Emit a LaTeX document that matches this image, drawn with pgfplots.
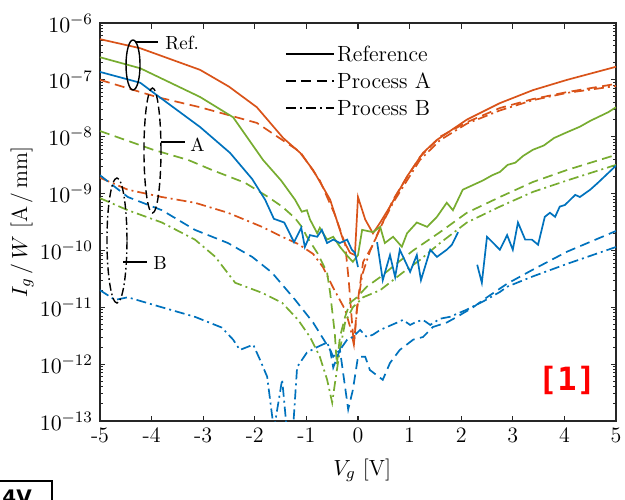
\documentclass[border=0pt]{standalone}
\usepackage{fontspec}
\usepackage{pgfplots}
\pgfplotsset{compat=1.18}
\newfontfamily\refmono{DejaVu Sans Mono}
\newfontfamily\boxsans{DejaVu Sans}
\definecolor{morange}{HTML}{D95319}
\definecolor{mgreen}{HTML}{77AC30}
\definecolor{mblue}{HTML}{0072BD}
\tikzset{
  ref/.style={line width=0.85pt, solid},
  procA/.style={line width=0.85pt, dash pattern=on 5pt off 2.75pt},
  procB/.style={line width=0.85pt, dash pattern=on 5pt off 2pt on 1pt off 2pt},
}
\begin{document}
\begin{tikzpicture}
\useasboundingbox (-50pt,-39pt) rectangle (262.5pt,210.5pt);
\begin{axis}[
  scale only axis, width=258pt, height=199pt,
  ymode=log, xmin=-5, xmax=5, ymin=1e-13, ymax=1e-6,
  xtick={-5,-4,-3,-2,-1,0,1,2,3,4,5},
  xticklabels={-5,-4,-3,-2,-1,0,1,2,3,4,5},
  ytick={1e-13,1e-12,1e-11,1e-10,1e-9,1e-8,1e-7,1e-6},
  minor ytick={2e-13,3e-13,4e-13,5e-13,6e-13,7e-13,8e-13,9e-13,
               2e-12,3e-12,4e-12,5e-12,6e-12,7e-12,8e-12,9e-12,
               2e-11,3e-11,4e-11,5e-11,6e-11,7e-11,8e-11,9e-11,
               2e-10,3e-10,4e-10,5e-10,6e-10,7e-10,8e-10,9e-10,
               2e-9,3e-9,4e-9,5e-9,6e-9,7e-9,8e-9,9e-9,
               2e-8,3e-8,4e-8,5e-8,6e-8,7e-8,8e-8,9e-8,
               2e-7,3e-7,4e-7,5e-7,6e-7,7e-7,8e-7,9e-7},
  tick align=inside, xtick pos=both, ytick pos=both,
  xticklabel pos=lower, yticklabel pos=left,
  major tick length=2.75pt, minor tick length=1.6pt,
  axis line style={line width=0.8pt, black!85},
  every tick/.style={black!85, line width=0.6pt},
  minor tick style={black!85, line width=0.5pt},
  tick label style={font=\fontsize{11}{13}\selectfont},
  label style={font=\fontsize{11}{13}\selectfont},
  xlabel={$V_g$ [V]},
  ylabel={$I_g\,/\,W$ [A\,/\,mm]},
  xlabel style={at={(axis description cs:0.508,-0.123)}, anchor=center},
  ylabel style={at={(axis description cs:-0.151,0.5)}, anchor=center, rotate=0},
  legend cell align=left,
  legend image code/.code={\draw[#1] (0pt,0pt) -- (24pt,0pt);},
  legend style={draw=none, fill=none, inner sep=0pt, row sep=2pt,
    at={(0.3576,0.952)}, anchor=north west,
    font=\fontsize{11}{13}\selectfont,
    nodes={inner sep=1.25pt, text height=8pt, text depth=1pt}},
]
\addlegendimage{black, ref}
\addlegendentry{Reference}
\addlegendimage{black, procA}
\addlegendentry{Process A}
\addlegendimage{black, procB}
\addlegendentry{Process B}

% orange device
\addplot[morange, ref, forget plot] coordinates {
(-5,5.2e-7) (-4.22,3.6e-7) (-3.06,1.5e-7) (-2.5,7.6e-8) (-1.96,3.3e-8) (-1.45,9.5e-9)
(-1.12,5.2e-9) (-0.87,2.6e-9) (-0.54,7.8e-10) (-0.29,1.55e-10) (-0.155,9.1e-11)
(-0.06,8.3e-11) (0,8.7e-10) (0.14,3.5e-10) (0.29,2.0e-10) (0.43,3.1e-10)
(0.62,5.9e-10) (0.95,2.0e-9) (1.26,5.2e-9) (1.53,8.8e-9) (2.11,2.0e-8)
(2.75,3.9e-8) (3.39,6.6e-8) (4.05,1.0e-7) (5,1.7e-7)};
\addplot[morange, procA, forget plot] coordinates {
(-5,1.0e-7) (-3.9,5.0e-8) (-3.06,3.3e-8) (-1.96,1.75e-8) (-1.41,8.1e-9)
(-1.12,5.4e-9) (-0.74,1.7e-9) (-0.45,4.3e-10) (-0.25,1.3e-10) (-0.18,3.0e-11)
(-0.12,6.0e-12) (-0.08,2.2e-12) (-0.02,1.0e-11) (0.10,6.3e-11) (0.29,1.26e-10)
(0.48,3.1e-10) (0.68,7.8e-10) (0.95,1.95e-9) (1.2,4.4e-9) (1.59,1.0e-8)
(2.11,1.8e-8) (2.75,3.2e-8) (3.39,4.6e-8) (4.05,6.1e-8) (5,8.5e-8)};
\addplot[morange, procB, forget plot] coordinates {
(-5,1.9e-9) (-4.46,1.17e-9) (-3.80,8.7e-10) (-3.16,6.9e-10) (-2.52,4.6e-10)
(-1.86,2.6e-10) (-1.47,1.74e-10) (-1.16,1.3e-10) (-0.87,8.7e-11) (-0.68,5.1e-11)
(-0.48,2.2e-11) (-0.25,9.1e-12) (-0.155,4.6e-12) (-0.08,2.2e-12) (-0.02,9e-12)
(0.08,3.7e-11) (0.23,9.6e-11) (0.43,2.5e-10) (0.68,6.9e-10) (0.95,1.7e-9)
(1.2,3.9e-9) (1.59,8.7e-9) (2.11,1.7e-8) (2.75,2.9e-8) (3.39,4.4e-8)
(4.05,5.9e-8) (5,7.8e-8)};

% green device
\addplot[mgreen, ref, forget plot] coordinates {
(-5,2.5e-7) (-4.22,1.6e-7) (-3.06,5.0e-8) (-2.42,2.2e-8) (-1.84,3.9e-9)
(-1.49,1.7e-9) (-1.22,7.8e-10) (-1.09,4.8e-10) (-0.99,5.1e-10) (-0.93,3.5e-10)
(-0.79,2.0e-10) (-0.74,2.5e-10) (-0.60,1.55e-10) (-0.48,1.74e-10) (-0.35,1.16e-10)
(-0.21,8.1e-11) (-0.10,6.3e-11) (0,8.3e-11) (0.08,2.3e-10) (0.29,2.1e-10)
(0.43,2.6e-10) (0.52,1.35e-10) (0.68,1.74e-10) (0.85,1.16e-10) (0.95,2.0e-10)
(1.14,3.1e-10) (1.34,2.6e-10) (1.53,3.9e-10) (1.72,6.9e-10) (1.84,5.1e-10)
(2.03,1.17e-9) (2.42,1.7e-9) (2.6,2.1e-9) (2.75,2.4e-9) (2.9,3.2e-9)
(3.05,3.5e-9) (3.2,4.6e-9) (3.39,5.9e-9) (3.6,7.0e-9) (3.8,9.5e-9)
(4.05,1.2e-8) (4.3,1.5e-8) (4.5,1.9e-8) (4.69,2.3e-8) (4.85,2.7e-8) (5,3.3e-8)};
\addplot[mgreen, procA, forget plot] coordinates {
(-5,1.26e-8) (-3.97,5.9e-9) (-3.29,3.9e-9) (-2.83,2.6e-9) (-2.19,1.55e-9)
(-1.74,8.7e-10) (-1.47,5.9e-10) (-1.22,3.7e-10) (-1.09,2.6e-10) (-0.99,1.74e-10)
(-0.79,9.1e-11) (-0.60,4.1e-11) (-0.54,1.8e-11) (-0.45,3.5e-12) (-0.41,9.8e-13)
(-0.35,3.0e-12) (-0.25,6.8e-12) (-0.155,1.2e-11) (-0.02,1.5e-11) (0.17,2.3e-11)
(0.43,3.4e-11) (0.76,6.0e-11) (1.07,1.0e-10) (1.59,2.1e-10) (2.11,4.6e-10)
(2.75,8.7e-10) (3.39,1.6e-9) (4.05,2.6e-9) (5,4.8e-9)};
\addplot[mgreen, procB, forget plot] coordinates {
(-5,8.3e-10) (-4.46,5.1e-10) (-3.80,3.1e-10) (-3.16,1.55e-10) (-2.77,7.8e-11)
(-2.38,2.7e-11) (-1.86,1.8e-11) (-1.47,1.2e-11) (-1.16,6.0e-12) (-0.93,3.0e-12)
(-0.74,1.35e-12) (-0.60,5.4e-13) (-0.50,2.1e-13) (-0.45,4.4e-13) (-0.35,1.8e-12)
(-0.25,5.4e-12) (-0.10,1.0e-11) (0.10,1.5e-11) (0.43,2.0e-11) (0.87,4.1e-11)
(1.20,6.8e-11) (1.59,1.35e-10) (2.11,3.1e-10) (2.75,5.9e-10) (3.39,1.07e-9)
(4.05,1.7e-9) (5,3.2e-9)};

% blue device (reference curve is interrupted where no current was read)
\addplot[mblue, ref, forget plot] coordinates {
(-5,1.38e-7) (-4.22,8.9e-8) (-3.90,5.4e-8) (-3.06,1.48e-8) (-2.48,5.2e-9)
(-2.05,1.8e-9) (-1.80,7.8e-10) (-1.63,3.6e-10) (-1.43,3.1e-10) (-1.24,1.4e-10)
(-1.10,2.5e-10) (-1.03,1.15e-10) (-0.93,1.86e-10) (-0.79,1.74e-10) (-0.70,2.3e-10)
(-0.60,1.35e-10) (-0.48,1.55e-10) (-0.35,1.35e-10) (-0.21,1.55e-10) (-0.12,1.03e-10)
(-0.06,9.1e-11) (0,5.1e-11)};
\addplot[mblue, ref, forget plot] coordinates {
(0.37,1.4e-10) (0.48,3.0e-11) (0.62,8.3e-11) (0.72,3.4e-11) (0.81,1.03e-10)
(1.01,4.2e-11) (1.14,8.3e-11) (1.22,3.0e-11) (1.40,1.03e-10) (1.53,7.7e-11)
(1.72,1.03e-10) (1.82,1.26e-10) (1.94,2.1e-10)};
\addplot[mblue, ref, forget plot] coordinates {
(2.31,5.6e-11) (2.40,2.7e-11) (2.50,1.74e-10) (2.75,1.03e-10) (2.89,1.86e-10)
(3.00,1.03e-10) (3.10,3.1e-10) (3.24,1.55e-10) (3.37,1.55e-10) (3.49,1.26e-10)
(3.62,3.9e-10) (3.72,4.6e-10) (3.82,3.9e-10) (3.91,5.9e-10) (4.01,6.3e-10)
(4.21,9.5e-10) (4.30,8.7e-10) (4.50,1.17e-9) (4.65,1.55e-9) (5,3.1e-9)};
\addplot[mblue, procA, forget plot] coordinates {
(-5,2.1e-9) (-4.46,8.7e-10) (-3.80,5.1e-10) (-3.16,2.3e-10) (-2.52,1.35e-10)
(-2.05,7.7e-11) (-1.67,4.1e-11) (-1.22,1.36e-11) (-0.87,5.4e-12) (-0.54,1.78e-12)
(-0.48,8.7e-13) (-0.35,1.78e-12) (-0.19,1.6e-13) (-0.10,3.5e-13) (0,1.35e-12)
(0.14,1.35e-12) (0.23,7.9e-13) (0.48,5.3e-13) (0.62,1.05e-12) (0.81,1.78e-12)
(1.07,2.7e-12) (1.26,3.0e-12) (1.45,4.5e-12) (1.72,5.4e-12) (1.92,6.8e-12)
(2.23,1.0e-11) (2.50,1.5e-11) (2.89,2.6e-11) (3.39,4.6e-11) (4.05,9.5e-11)
(5,2.2e-10)};
\addplot[mblue, procB, forget plot] coordinates {
(-5,2.0e-11) (-4.71,1.35e-11) (-4.46,1.5e-11) (-3.80,1.0e-11) (-3.16,6.8e-12)
(-2.64,4.4e-12) (-2.42,2.7e-12) (-2.29,1.78e-12) (-2.03,2.2e-12) (-1.90,1.2e-12)
(-1.76,6.0e-13) (-1.63,7e-14) (-1.47,5.4e-13) (-1.38,7e-14) (-1.26,7e-14)
(-1.18,8.9e-13) (-0.99,1.6e-12) (-0.79,2.0e-12) (-0.60,2.4e-12) (-0.48,1.35e-12)
(-0.35,1.78e-12) (-0.21,2.7e-12) (-0.10,3.0e-12) (0.04,4.0e-12) (0.17,3.0e-12)
(0.29,3.3e-12) (0.43,4.0e-12) (0.56,4.5e-12) (0.76,5.4e-12) (0.87,6.0e-12)
(1.01,4.9e-12) (1.14,5.6e-12) (1.26,6.0e-12) (1.40,4.9e-12) (1.59,6.3e-12)
(1.78,6.8e-12) (2.11,9.1e-12) (2.42,1.26e-11) (2.75,1.86e-11) (2.89,2.3e-11)
(3.39,3.5e-11) (4.05,5.8e-11) (5,1.15e-10)};

% group markers
\draw[black, line width=0.7pt] (rel axis cs:0.0640,0.8945) ellipse [x radius=3.5pt, y radius=12.5pt];
\draw[black, line width=1pt] (rel axis cs:0.0678,0.9523) -- (rel axis cs:0.1124,0.9523);
\node[anchor=west, inner sep=0pt, font=\fontsize{9.5}{10}\selectfont] at (rel axis cs:0.126,0.9497) {Ref.};
\draw[black, line width=0.7pt, dash pattern=on 4pt off 2pt] (rel axis cs:0.1017,0.6796) ellipse [x radius=4.25pt, y radius=31.25pt];
\draw[black, line width=1pt] (rel axis cs:0.1182,0.7010) -- (rel axis cs:0.1647,0.7010);
\node[anchor=west, inner sep=0pt, font=\fontsize{9.5}{10}\selectfont] at (rel axis cs:0.1744,0.6935) {A};
\draw[black, line width=0.7pt, dash pattern=on 4pt off 1.5pt on 0.8pt off 1.5pt] (rel axis cs:0.0329,0.4535) ellipse [x radius=5pt, y radius=31.25pt];
\draw[black, line width=1pt] (rel axis cs:0.0446,0.3995) -- (rel axis cs:0.0911,0.3995);
\node[anchor=west, inner sep=0pt, font=\fontsize{9.5}{10}\selectfont] at (rel axis cs:0.1027,0.397) {B};

\node[text=red, inner sep=0pt, font=\refmono\bfseries\fontsize{16}{18}\selectfont] at (rel axis cs:0.905,0.103) {[1]};
\end{axis}
% corner of a neighbouring panel
\draw[black, line width=0.6pt] (-50pt,-30pt) -- (-24pt,-30pt) -- (-24pt,-40pt);
\node[anchor=north west, inner sep=0pt, font=\boxsans\bfseries\fontsize{10}{12}\selectfont] at (-49pt,-34.5pt) {4V};
\end{tikzpicture}
\end{document}
